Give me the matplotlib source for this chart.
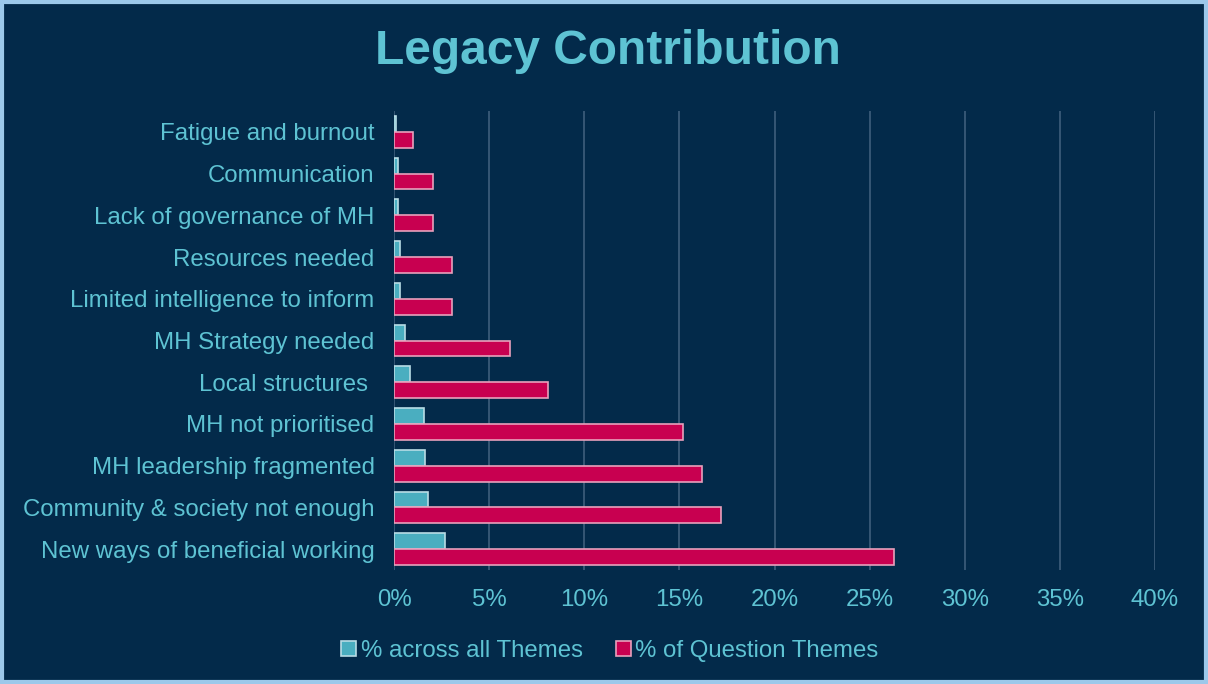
import matplotlib
matplotlib.use("Agg")
import matplotlib.pyplot as plt
import numpy as np
from matplotlib.ticker import PercentFormatter

categories = ["Fatigue and burnout", "Communication", "Lack of governance of MH",
              "Resources needed", "Limited intelligence to inform", "MH Strategy needed",
              "Local structures ", "MH not prioritised", "MH leadership fragmented",
              "Community & society not enough", "New ways of beneficial working"]
across_all = [0.1, 0.2, 0.2, 0.3, 0.3, 0.6, 0.85, 1.6, 1.65, 1.8, 2.7]
question = [1.0, 2.05, 2.05, 3.05, 3.05, 6.1, 8.1, 15.2, 16.2, 17.2, 26.3]
series_names = ["% across all Themes", "% of Question Themes"]
xticks = [0, 5, 10, 15, 20, 25, 30, 35, 40]

BG = "#032a4a"
TEXT = "#5ec3d3"
TEAL = "#4aaec0"
RED = "#c80050"
FS = 17.3

plt.rcParams['font.family'] = ['Liberation Sans', 'DejaVu Sans']

fig = plt.figure(figsize=(12.08, 6.84), dpi=100, facecolor=BG)
ax = fig.add_axes([394/1208, 1-570/684, (1155-394)/1208, (570-111)/684])
ax.set_facecolor(BG)

y = np.arange(len(categories))
h = 0.38
ax.barh(y - h/2, across_all, height=h, color=TEAL, edgecolor="#b8dce6", linewidth=1.2,
        label=series_names[0], zorder=3)
ax.barh(y + h/2, question, height=h, color=RED, edgecolor="#e8a0bc", linewidth=1.2,
        label=series_names[1], zorder=3)

ax.set_xlim(0, 40)
ax.set_ylim(len(categories) - 0.5, -0.5)
ax.set_xticks(xticks)
ax.xaxis.set_major_formatter(PercentFormatter(decimals=0))
ax.set_yticks(y)
ax.set_yticklabels(categories)
ax.tick_params(axis='both', length=0, colors=TEXT, labelsize=FS)
ax.tick_params(axis='y', pad=14)
ax.tick_params(axis='x', pad=14)
ax.grid(axis='x', color="#3f5e7c", linewidth=1.2, zorder=0)
for s in ax.spines.values():
    s.set_visible(False)

fig.text(0.503, 1 - 52/684, "Legacy Contribution", color=TEXT, fontsize=34.5,
         fontweight='bold', ha='center', va='center')

leg = fig.legend(loc='center', bbox_to_anchor=(0.505, 1 - 651/684), ncol=2, frameon=False,
                 fontsize=FS, handlelength=0.6, handleheight=0.6, handletextpad=0.2,
                 columnspacing=1.4)
for t in leg.get_texts():
    t.set_color(TEXT)

# frame border
fig.patches.append(plt.Rectangle((0.002, 0.003), 0.996, 0.994, transform=fig.transFigure,
                                 fill=False, edgecolor="#9cc8ea", linewidth=3))

fig.savefig("out.png", dpi=100, facecolor=BG)
